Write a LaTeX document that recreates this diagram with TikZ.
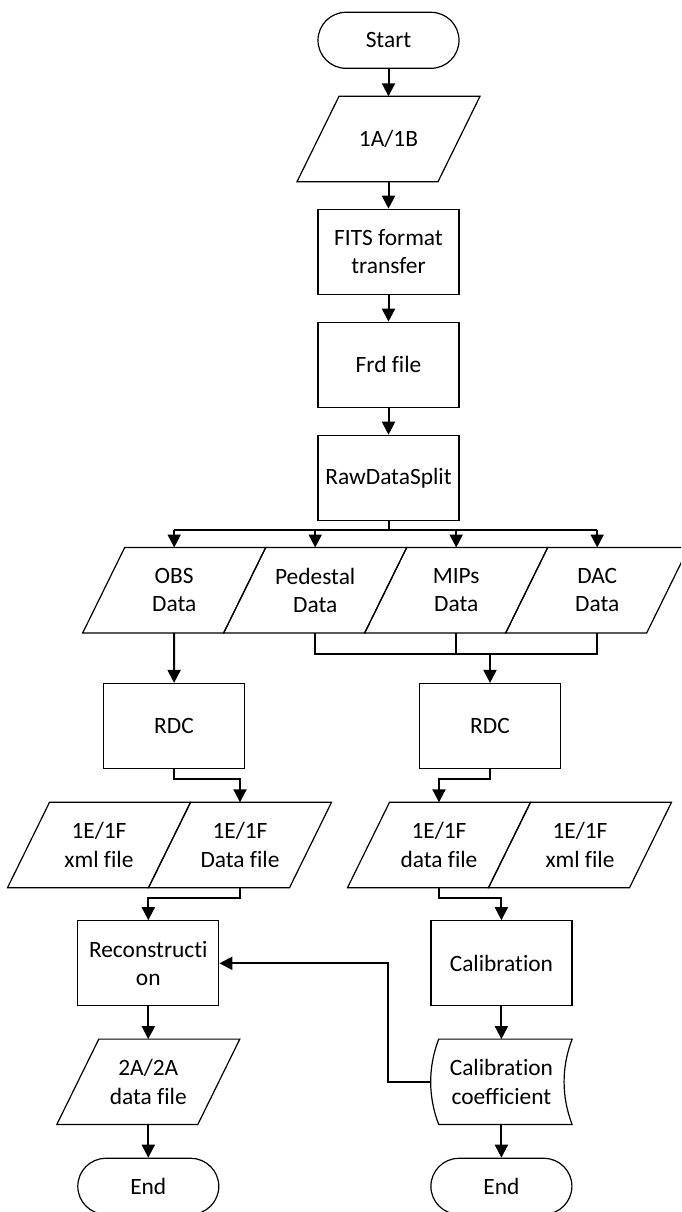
\documentclass[tikz,border=0pt]{standalone}
\usepackage{fontspec}
\setmainfont{Carlito}[Ligatures=NoCommon]
\usetikzlibrary{arrows.meta}

\tikzset{
  base/.style={inner sep=0pt, align=center, font=\fontsize{23.4pt}{28.3pt}\selectfont},
  term/.style={base, draw, line width=1.2pt, rounded corners=28pt, minimum width=141pt, minimum height=56pt},
  proc/.style={base, draw, line width=1.2pt, minimum width=141pt, minimum height=85pt},
  io/.style={base, minimum width=100pt, minimum height=85pt},
  store/.style={base, minimum width=141pt, minimum height=85pt},
  outline/.style={line width=1.2pt, line join=miter},
  wire/.style={line width=2pt},
  flow/.style={wire, -{Triangle[length=13pt,width=13pt]}}
}

\begin{document}
\begin{tikzpicture}[x=1pt, y=-1pt]
\clip (0,0) rectangle (681,1212);

% main column
\node[term] (start) at (388.5,40.3) {Start};
\node[io]   (in1)   at (388.5,139)  {1A/1B};
\node[proc] (fits)  at (388.5,251.8) {FITS format\\transfer};
\node[proc] (frd)   at (388.5,364.8) {Frd file};
\node[proc] (rds)   at (388.5,477.8) {RawDataSplit};

% split data products
\node[io] (obs)  at (174.2,590.2) {OBS\\Data};
\node[io] (ped)  at (315.2,590.2) {Pedestal\\Data};
\node[io] (mips) at (456.2,590.2) {MIPs\\Data};
\node[io] (dac)  at (597.2,590.2) {DAC\\Data};

% raw data conversion
\node[proc] (rdc1) at (174,726) {RDC};
\node[proc] (rdc2) at (490,726) {RDC};

% 1E/1F products
\node[io] (xml1)  at (99,845)  {1E/1F\\xml file};
\node[io] (data1) at (240,845) {1E/1F\\Data file};
\node[io] (data2) at (439,845) {1E/1F\\data file};
\node[io] (xml2)  at (580,845) {1E/1F\\xml file};

% processing
\node[proc]  (recon) at (148.3,963.3) {Reconstructi\\on};
\node[proc]  (calib) at (501.4,963.3) {Calibration};
\node[io]    (out2a) at (148.3,1081.8) {2A/2A\\data file};
\node[store] (coef)  at (501.4,1081.8) {Calibration\\coefficient};
\node[term]  (end1)  at (148.3,1186.3) {End};
\node[term]  (end2)  at (501.4,1186.3) {End};

% parallelogram outlines for data nodes
\foreach \n in {in1,obs,ped,mips,dac,xml1,data1,data2,xml2,out2a}
  \draw[outline] ([xshift=-49.5pt]\n.north) -- ([xshift=91.5pt]\n.north)
    -- ([xshift=49.5pt]\n.south) -- ([xshift=-91.5pt]\n.south) -- cycle;

% stored-data outline
\draw[outline] ([xshift=8pt]coef.north west) -- (coef.north east)
  .. controls ([xshift=-10.7pt,yshift=-28pt]coef.north east) and ([xshift=-10.7pt,yshift=28pt]coef.south east) .. (coef.south east)
  -- ([xshift=8pt]coef.south west)
  .. controls ([xshift=-2.7pt,yshift=28pt]coef.south west) and ([xshift=-2.7pt,yshift=-28pt]coef.north west) .. ([xshift=8pt]coef.north west)
  -- cycle;

% main flow
\draw[flow] (start) -- (in1.north);
\draw[flow] (in1.south) -- (fits);
\draw[flow] (fits) -- (frd);
\draw[flow] (frd) -- (rds);

% split
\coordinate (split) at (388.5,530);
\draw[wire] (rds.south) -- (split);
\draw[wire] (obs.north |- split) -- (dac.north |- split);
\foreach \n in {obs,ped,mips,dac}
  \draw[flow] (\n.north |- split) -- (\n.north);

% OBS branch
\draw[flow] (obs.south) -- (rdc1);

% calibration data join
\coordinate (join) at (490,654.3);
\draw[wire] (ped.south) -- (ped.south |- join) -- (dac.south |- join) -- (dac.south);
\draw[wire] (mips.south) -- (mips.south |- join);
\draw[flow] (join) -- (rdc2);

% conversion outputs
\draw[flow] (rdc1.south) -- ++(0,10) -| (data1.north);
\draw[flow] (rdc2.south) -- ++(0,10) -| (data2.north);
\draw[flow] (data1.south) -- ++(0,10) -| (recon.north);
\draw[flow] (data2.south) -- ++(0,10) -| (calib.north);

% lower flow
\draw[flow] (recon) -- (out2a.north);
\draw[flow] (out2a.south) -- (end1);
\draw[flow] (calib) -- (coef);
\draw[flow] (coef) -- (end2);

% calibration feedback
\draw[flow] (coef.west) -- ++(-43,0) |- (recon.east);
\end{tikzpicture}
\end{document}
